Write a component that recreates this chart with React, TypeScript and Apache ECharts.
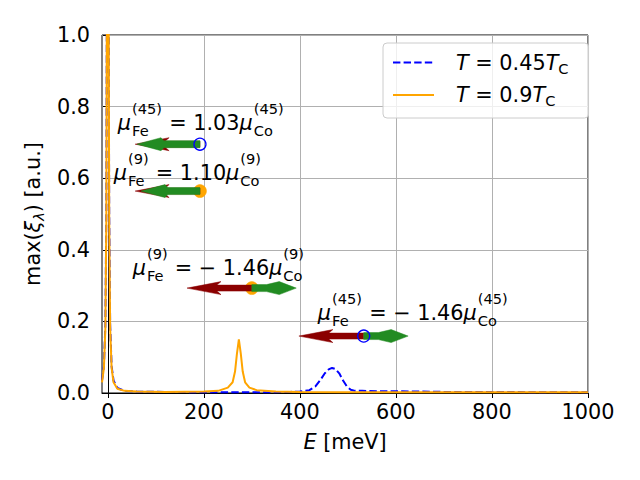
import React, { useEffect, useRef } from 'react';
import * as echarts from 'echarts';

const FONT = '"DejaVu Sans", "Liberation Sans", sans-serif';
const FAMILY = 'DejaVu Sans';
const FS = 20.8; // main font size (15pt)
const SS = 14.6; // script font size

// ---- axes ----
const xTickValues = [0, 200, 400, 600, 800, 1000];
const yTickValues = [0, 0.2, 0.4, 0.6, 0.8, 1.0];
const xMin = -12;
const xMax = 1000;

// ---- series: T = 0.45 Tc (blue dashed) ----
const energyLow = [-12, -8, -5, -3, -2, -1, 0, 1, 2, 3, 5, 8, 12, 20, 35, 60, 120, 200, 260, 320, 380, 400, 420, 432, 442, 452, 460, 467, 474, 482, 490, 498, 506, 515, 530, 560, 600, 650, 700, 800, 900, 1000];
const maxXiLow = [0.035, 0.075, 0.19, 0.5, 1.0, 2.5, 5.0, 2.5, 1.0, 0.5, 0.19, 0.075, 0.035, 0.014, 0.006, 0.004, 0.003, 0.002, 0.002, 0.002, 0.003, 0.004, 0.008, 0.018, 0.035, 0.055, 0.066, 0.07, 0.067, 0.055, 0.035, 0.018, 0.009, 0.006, 0.006, 0.005, 0.005, 0.004, 0.003, 0.003, 0.002, 0.002];

// ---- series: T = 0.9 Tc (orange solid) ----
const energyHigh = [-12, -8, -5, -3, -2, -1, 0, 1, 2, 3, 5, 8, 12, 20, 35, 60, 120, 200, 230, 250, 260, 265, 269, 273, 277, 281, 286, 295, 310, 350, 400, 500, 700, 1000];
const maxXiHigh = [0.03, 0.07, 0.18, 0.48, 1.0, 2.5, 5.0, 2.5, 1.0, 0.48, 0.18, 0.07, 0.03, 0.012, 0.006, 0.004, 0.003, 0.004, 0.006, 0.015, 0.03, 0.06, 0.11, 0.15, 0.11, 0.06, 0.03, 0.015, 0.008, 0.004, 0.003, 0.002, 0.002, 0.002];

const seriesNames = ['T = 0.45T_C', 'T = 0.9T_C'];
const legendNumbers = ['0.45', '0.9'];
const seriesColors = ['#0000ff', '#ffa500'];

// ---- annotations (moment ratios) ----
const annEnergy = [192, 192, 300, 533];
const annMaxXi = [0.695, 0.564, 0.293, 0.159];
const annSeriesIndex = [0, 1, 1, 0];
const annLayer = ['45', '9', '9', '45'];
const annRatio = [1.03, 1.1, -1.46, -1.46];
const annLabelEnergy = [21, 12.5, 52, 437.5];
const annLabelMaxXi = [0.735, 0.595, 0.33, 0.204];
const feArrowLength = -135; // meV, Fe moment arrow (points left); Co = Fe / ratio

const FE_STYLE = { color: '#8b0000', shaft: 6, headWidth: 13, headLength: 34, overhang: 0.12 };
const CO_PAR_STYLE = { color: '#228b22', shaft: 7, headWidth: 13, headLength: 24, overhang: -0.12 };
const CO_ANTI_STYLE = { color: '#228b22', shaft: 7, headWidth: 13, headLength: 17, overhang: -0.75 };

let measureCtx: CanvasRenderingContext2D | null = null;
function textWidth(t: string, size: number, italic: boolean) {
  if (!measureCtx) measureCtx = document.createElement('canvas').getContext('2d');
  if (!measureCtx) return t.length * size * 0.6;
  measureCtx.font = `${italic ? 'italic ' : ''}${size}px "${FAMILY}"`;
  return measureCtx.measureText(t).width;
}

function textEl(t: string, x: number, baseline: number, size: number, italic: boolean) {
  return {
    type: 'text',
    x,
    y: baseline - 0.346 * size,
    style: {
      text: t,
      fill: '#000',
      fontSize: size,
      fontFamily: FAMILY,
      fontStyle: italic ? 'italic' : 'normal',
      textAlign: 'left',
      textVerticalAlign: 'middle',
    },
  };
}

type Tok = { t?: string; it?: boolean; sub?: string; sup?: string };

function mathText(tokens: Tok[], x: number, baseline: number) {
  const els: any[] = [];
  let cx = x;
  for (const tk of tokens) {
    if (tk.t !== undefined) {
      els.push(textEl(tk.t, cx, baseline, FS, !!tk.it));
      cx += textWidth(tk.t, FS, !!tk.it);
    } else {
      let w = 0;
      if (tk.sup) {
        els.push(textEl(tk.sup, cx + 1, baseline - 16.5, SS, false));
        w = Math.max(w, textWidth(tk.sup, SS, false));
      }
      if (tk.sub) {
        els.push(textEl(tk.sub, cx + 1, baseline + 6, SS, false));
        w = Math.max(w, textWidth(tk.sub, SS, false));
      }
      cx += w + 1.5;
    }
  }
  return els;
}

function arrowEl(x0: number, y0: number, x1: number, st: any) {
  const d = x1 >= x0 ? 1 : -1;
  const L = Math.abs(x1 - x0);
  const H = Math.min(st.headLength, L);
  const j = L - H * (1 - st.overhang);
  const c = L - H;
  const w = st.shaft / 2;
  const W = st.headWidth / 2;
  const P = (s: number, off: number) => [x0 + d * s, y0 + off];
  return {
    type: 'polygon',
    shape: {
      points: [P(0, -w), P(j, -w), P(c, -W), P(L, 0), P(c, W), P(j, w), P(0, w)],
    },
    style: { fill: st.color, stroke: st.color, lineWidth: 0.5 },
  };
}

function markerEl(x: number, y: number, s: number) {
  if (s === 0) {
    return { type: 'circle', shape: { cx: x, cy: y, r: 6 }, style: { fill: 'none', stroke: seriesColors[0], lineWidth: 1.3 } };
  }
  return { type: 'circle', shape: { cx: x, cy: y, r: 6.5 }, style: { fill: seriesColors[1], stroke: seriesColors[1], lineWidth: 0.5 } };
}

function annTokens(i: number): Tok[] {
  const r = annRatio[i];
  const rs = r < 0 ? '\u2212 ' + Math.abs(r).toFixed(2) : r.toFixed(2);
  const sup = '(' + annLayer[i] + ')';
  return [
    { t: '\u03bc', it: true },
    { sub: 'Fe', sup },
    { t: ' = ' + rs },
    { t: '\u03bc', it: true },
    { sub: 'Co', sup },
  ];
}

export default function App() {
  const ref = useRef<HTMLDivElement>(null);
  useEffect(() => {
    if (!ref.current) return;
    const chart = echarts.init(ref.current, undefined, { renderer: 'svg' });
    const lowData = energyLow.map((e, i) => [e, maxXiLow[i]]);
    const highData = energyHigh.map((e, i) => [e, maxXiHigh[i]]);
    const annData = annEnergy.map((e, i) => [e, annMaxXi[i], i]);

    const richBase = {
      n: { fontSize: FS, fontFamily: FONT, color: '#000', lineHeight: 26 },
      it: { fontSize: FS, fontFamily: FONT, color: '#000', fontStyle: 'italic', lineHeight: 26 },
      lead: { fontSize: FS, fontFamily: FONT, color: '#000', fontStyle: 'italic', lineHeight: 26, padding: [0, 0, 0, 17] },
      sub: { fontSize: SS, fontFamily: FONT, color: '#000', lineHeight: 16, verticalAlign: 'bottom' },
      subit: { fontSize: SS, fontFamily: FONT, color: '#000', fontStyle: 'italic', lineHeight: 16, verticalAlign: 'bottom' },
    };

    chart.setOption({
      animation: false,
      backgroundColor: '#fff',
      textStyle: { fontFamily: FONT },
      grid: { left: 102, right: 52, top: 35, bottom: 87, show: true, borderColor: '#000', borderWidth: 1, backgroundColor: 'transparent' },
      legend: {
        left: 383,
        top: 43,
        orient: 'vertical',
        itemWidth: 41,
        itemHeight: 14,
        itemGap: 9,
        padding: [9, 20, 10, 9],
        backgroundColor: 'rgba(255,255,255,0.8)',
        borderColor: '#cccccc',
        borderWidth: 1,
        borderRadius: 4,
        itemStyle: { opacity: 0 },
        data: seriesNames,
        formatter: (name: string) => {
          const k = seriesNames.indexOf(name);
          return `{lead|T}{n| = ${legendNumbers[k]}}{it|T}{sub|C}`;
        },
        textStyle: { fontSize: FS, fontFamily: FONT, color: '#000', rich: richBase },
      },
      xAxis: {
        type: 'value',
        min: xMin,
        max: xMax,
        name: '{it|E}{n| [meV]}',
        nameLocation: 'middle',
        nameGap: 36,
        nameTextStyle: { fontSize: FS, fontFamily: FONT, color: '#000', rich: richBase },
        axisLine: { show: true, lineStyle: { color: '#000', width: 1 } },
        axisTick: { show: true, length: 5, customValues: xTickValues, lineStyle: { color: '#000', width: 1 } },
        axisLabel: { customValues: xTickValues, fontSize: FS, fontFamily: FONT, color: '#000', margin: 8, formatter: (v: number) => String(v) },
        splitLine: { show: true, lineStyle: { color: '#b0b0b0', width: 1 } },
      },
      yAxis: {
        type: 'value',
        min: yTickValues[0],
        max: yTickValues[yTickValues.length - 1],
        interval: 0.2,
        name: '{n|max(}{it|\u03be}{subit|\u03bb}{n|) [a.u.]}',
        nameLocation: 'middle',
        nameGap: 52,
        nameRotate: 90,
        nameTextStyle: { fontSize: FS, fontFamily: FONT, color: '#000', rich: richBase },
        axisLine: { show: true, lineStyle: { color: '#000', width: 1 } },
        axisTick: { show: true, length: 5, lineStyle: { color: '#000', width: 1 } },
        axisLabel: { fontSize: FS, fontFamily: FONT, color: '#000', margin: 12, formatter: (v: number) => v.toFixed(1) },
        splitLine: { show: true, lineStyle: { color: '#b0b0b0', width: 1 } },
      },
      series: [
        {
          name: seriesNames[0],
          type: 'line',
          data: lowData,
          symbol: 'none',
          clip: true,
          lineStyle: { color: seriesColors[0], width: 2, type: [7.4, 3.2] },
          itemStyle: { color: seriesColors[0] },
          z: 2,
        },
        {
          name: seriesNames[1],
          type: 'line',
          data: highData,
          symbol: 'none',
          clip: true,
          lineStyle: { color: seriesColors[1], width: 2 },
          itemStyle: { color: seriesColors[1] },
          z: 3,
        },
        {
          type: 'custom',
          data: annData,
          clip: false,
          z: 5,
          silent: true,
          renderItem: (params: any, api: any) => {
            const i = params.dataIndex;
            const s = annSeriesIndex[i];
            const [mx, my] = api.coord([annEnergy[i], annMaxXi[i]]);
            const feTip = api.coord([annEnergy[i] + feArrowLength, annMaxXi[i]]);
            const coTip = api.coord([annEnergy[i] + feArrowLength / annRatio[i], annMaxXi[i]]);
            const [lx, ly] = api.coord([annLabelEnergy[i], annLabelMaxXi[i]]);
            const children: any[] = [];
            if (s === 1) children.push(markerEl(mx, my, s));
            children.push(arrowEl(mx, my, feTip[0], FE_STYLE));
            children.push(arrowEl(mx, my, coTip[0], annRatio[i] > 0 ? CO_PAR_STYLE : CO_ANTI_STYLE));
            if (s === 0) children.push(markerEl(mx, my, s));
            children.push(...mathText(annTokens(i), lx, ly));
            return { type: 'group', children };
          },
        },
      ],
    });
    return () => chart.dispose();
  }, []);
  return <div ref={ref} style={{ position: 'absolute', left: 0, top: 0, width: 640, height: 480 }} />;
}
